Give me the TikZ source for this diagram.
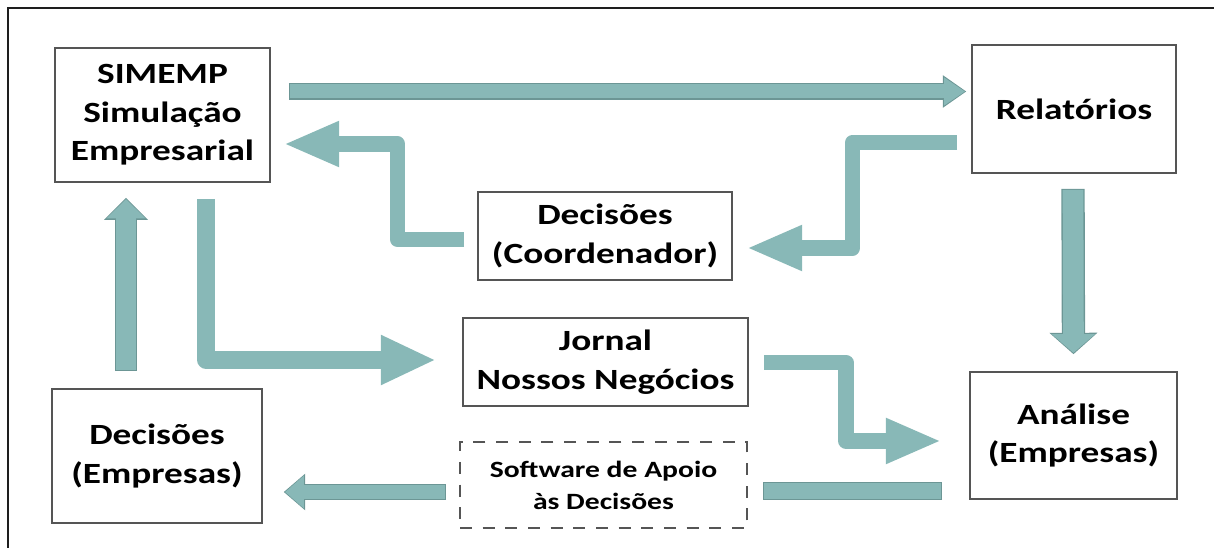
\documentclass[tikz,border=0pt]{standalone}
\usepackage{fontspec}
\setmainfont{Carlito}[FakeStretch=1.27]
\usetikzlibrary{arrows.meta,calc}
\definecolor{arrowfill}{RGB}{136,184,183}
\definecolor{arrowline}{RGB}{108,150,149}
\definecolor{boxline}{RGB}{85,85,85}
\definecolor{framecol}{RGB}{30,30,30}
\begin{document}
\begin{tikzpicture}[x=0.75pt,y=-0.75pt,
  box/.style={draw=boxline,line width=1.3pt,fill=white,align=center,inner sep=0pt,
    font=\fontsize{22}{29}\selectfont\bfseries},
  dbox/.style={box,dashed,dash pattern=on 9pt off 8pt,font=\fontsize{17.5}{24}\selectfont\bfseries},
  bentarr/.style={draw=arrowfill,line width=11.5pt,line join=round,
    -{Triangle[length=40pt,width=35pt,line width=0pt,fill=arrowfill]}},
]
\useasboundingbox (0,0) rectangle (1214,548);
% frame (top and left edges visible)
\draw[framecol,line width=1.8pt] (8,548) -- (8,8) -- (1214,8);

% nodes
\node[box,minimum width=161.25pt,minimum height=100.5pt] (simemp) at (162.5,115) {SIMEMP\\Simulação\\Empresarial};
\node[box,minimum width=153pt,minimum height=96pt] (rel) at (1074,109) {Relatórios};
\node[box,minimum width=190.5pt,minimum height=66pt] (coord) at (605,236) {Decisões\\(Coordenador)};
\node[box,minimum width=213.75pt,minimum height=66pt] (jornal) at (605.5,362) {Jornal\\Nossos Negócios};
\node[dbox,minimum width=215.25pt,minimum height=64.5pt] (soft) at (603.5,485) {Software de Apoio\\às Decisões};
\node[box,minimum width=157.5pt,minimum height=100.5pt] (decemp) at (157,456) {Decisões\\(Empresas)};
\node[box,minimum width=155.25pt,minimum height=95.25pt] (analise) at (1073.5,435.5) {Análise\\(Empresas)};

% straight arrows with outline
\draw[arrowline,line width=12.5pt,-{Triangle[length=17.5pt,width=24.5pt,line width=0pt]}]
  ([shift={(18,-23.5)}]simemp.east) -- ([shift={(-5,-17.5)}]rel.west);
\draw[arrowfill,line width=10.5pt,-{Triangle[length=15.5pt,width=21pt,line width=0pt]}]
  ([shift={(19,-23.5)}]simemp.east) -- ([shift={(-6.3,-17.5)}]rel.west);

\draw[arrowline,line width=17.5pt,-{Triangle[length=16pt,width=36pt,line width=0pt]}]
  ([shift={(-1,15)}]rel.south) -- ([shift={(0,-17)}]analise.north);
\draw[arrowfill,line width=15.5pt,-{Triangle[length=14pt,width=32.5pt,line width=0pt]}]
  ([shift={(-1,16)}]rel.south) -- ([shift={(0,-18.3)}]analise.north);

\draw[arrowline,line width=12pt,-{Triangle[length=16pt,width=27.5pt,line width=0pt]}]
  ([shift={(-13,7)}]soft.west) -- ([shift={(21,36)}]decemp.east);
\draw[arrowfill,line width=10pt,-{Triangle[length=14pt,width=24.5pt,line width=0pt]}]
  ([shift={(-14,7)}]soft.west) -- ([shift={(22.3,36)}]decemp.east);

\draw[arrowline,line width=17pt,-{Triangle[length=16.5pt,width=33pt,line width=0pt]}]
  ([shift={(-31,-17)}]decemp.north) -- ([shift={(-36.5,15)}]simemp.south);
\draw[arrowfill,line width=15pt,-{Triangle[length=14.5pt,width=29.5pt,line width=0pt]}]
  ([shift={(-31,-18)}]decemp.north) -- ([shift={(-36.5,16.3)}]simemp.south);

% plain bar (Análise -- Software)
\draw[arrowline,line width=14pt] ([shift={(-27,55.5)}]analise.west) -- ([shift={(15,6)}]soft.east);
\draw[arrowfill,line width=12pt] ([shift={(-28,55.5)}]analise.west) -- ([shift={(16,6)}]soft.east);

% bent arrows
\draw[bentarr] ([shift={(-14,33.5)}]rel.west) -- ++(-104.5,0) |- ([shift={(16,12)}]coord.east);
\draw[bentarr] ([shift={(-13,3.5)}]coord.west) -- ++(-66.5,0) |- ([shift={(15,29)}]simemp.east);
\draw[bentarr,line width=13pt,-{Triangle[length=40pt,width=38pt,line width=0pt,fill=arrowfill]}]
  ([shift={(43.5,16)}]simemp.south) |- ([shift={(-28,-2)}]jornal.west);
\draw[bentarr] ([shift={(15,0.5)}]jornal.east) -- ++(82,0) |- ([shift={(-30,5.5)}]analise.west);
\end{tikzpicture}
\end{document}
